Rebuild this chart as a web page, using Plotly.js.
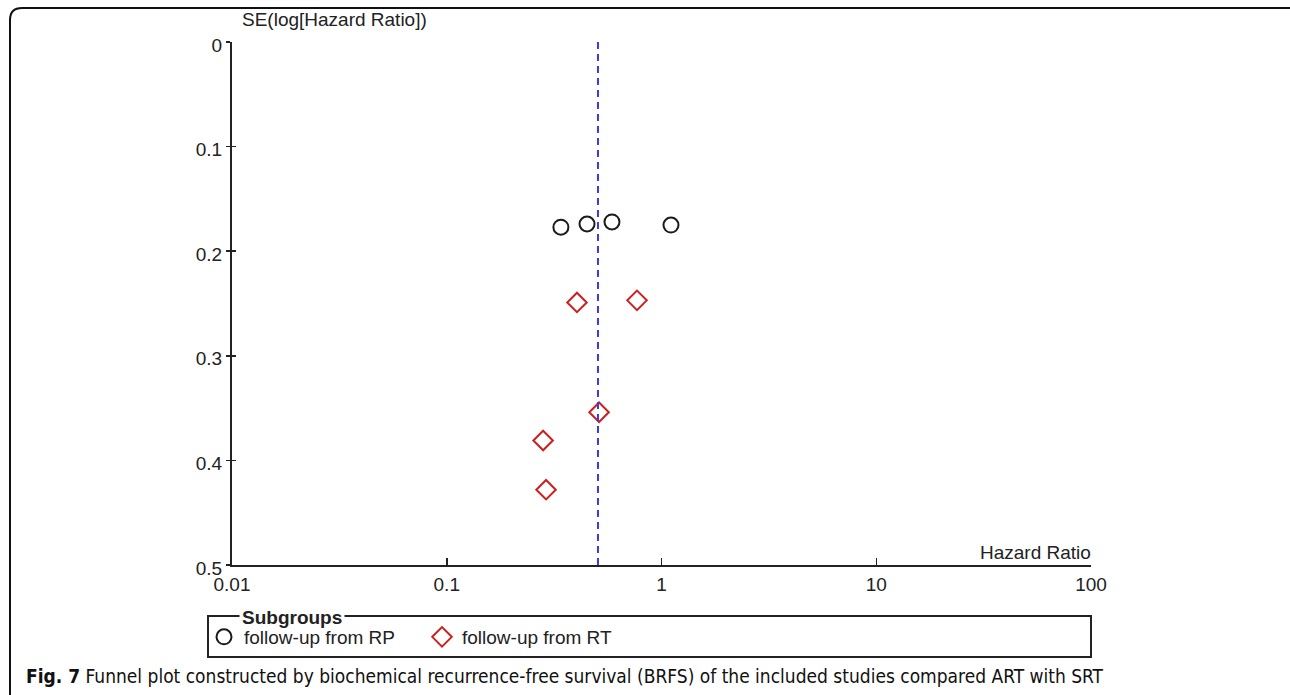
<!DOCTYPE html>
<html>
<head>
<meta charset="utf-8">
<script src="https://cdn.plot.ly/plotly-3.0.1.min.js"></script>
<style>
html,body{margin:0;padding:0;background:#fff;}
#chart{width:1290px;height:695px;}
</style>
</head>
<body>
<div id="chart"></div>
<script>
// Subgroup: follow-up from RP (circles)
const rpHR = [0.340, 0.450, 0.588, 1.107];
const rpSE = [0.177, 0.174, 0.172, 0.175];
// Subgroup: follow-up from RT (diamonds)
const rtHR = [0.404, 0.769, 0.512, 0.281, 0.290];
const rtSE = [0.249, 0.247, 0.354, 0.381, 0.428];
// Pooled estimate (dashed line)
const pooledHR = 0.506;
// Axis ticks
const xTickVals = [0.01, 0.1, 1, 10, 100];
const xTickText = ['0.01', '0.1', '1', '10', '100'];
const yTickVals = [0, 0.1, 0.2, 0.3, 0.4, 0.5];
const yTickText = ['0', '0.1', '0.2', '0.3', '0.4', '0.5'];
const seRange = [0.5, 0];
const legendTitle = 'Subgroups';
const seriesNames = ['follow-up from RP', 'follow-up from RT'];
const caption = '<b>Fig. 7</b> Funnel plot constructed by biochemical recurrence-free survival (BRFS) of the included studies compared ART with SRT';

const ink = '#222222';
const F = 'Liberation Sans, Arial, sans-serif';
const FS = 19;

const traces = [
  {
    x: rpHR, y: rpSE, type: 'scatter', mode: 'markers', name: seriesNames[0],
    marker: {symbol: 'circle-open', size: 15, color: '#1a1a1a', line: {width: 2, color: '#1a1a1a'}},
    xaxis: 'x', yaxis: 'y'
  },
  {
    x: rtHR, y: rtSE, type: 'scatter', mode: 'markers', name: seriesNames[1],
    marker: {symbol: 'diamond-open', size: 15, color: '#cc1f1f', line: {width: 2, color: '#cc1f1f'}},
    xaxis: 'x', yaxis: 'y'
  },
  {
    x: [null], y: [null], type: 'scatter', mode: 'markers', showlegend: false,
    xaxis: 'x', yaxis: 'y2', hoverinfo: 'skip'
  }
];

// plot area in px: left 232, right 1091, top 42, bottom 565
const W = 1091 - 232, H = 565 - 42;
const px = v => (v - 232) / W;
const py = v => (565 - v) / H;

const rx = 12 / W, ry = 12 / H;
const framePath = `M ${px(10)},${py(705)} L ${px(10)},${py(8) - ry} Q ${px(10)},${py(8)} ${px(10) + rx},${py(8)} L ${px(1300)},${py(8)}`;

const layout = {
  width: 1290, height: 695,
  margin: {l: 232, r: 199, t: 42, b: 130, pad: 0},
  paper_bgcolor: '#ffffff', plot_bgcolor: '#ffffff',
  font: {family: F, size: FS, color: ink},
  showlegend: true,
  xaxis: {
    type: 'log', range: [-2, 2], tickvals: xTickVals, ticktext: xTickText,
    showline: true, linecolor: ink, linewidth: 2, showgrid: false, zeroline: false,
    ticks: 'inside', ticklen: 7, tickwidth: 1.5, tickcolor: ink,
    tickfont: {family: F, size: FS, color: ink}, ticklabelstandoff: 1
  },
  yaxis: {
    range: seRange, tickvals: yTickVals, ticktext: yTickText,
    showline: true, linecolor: ink, linewidth: 2, showgrid: false, zeroline: false,
    ticks: 'outside', ticklen: 4, tickwidth: 1.5, tickcolor: ink,
    tickfont: {family: F, size: FS, color: ink}, ticklabelshift: -3, ticklabelstandoff: 0
  },
  yaxis2: {
    overlaying: 'y', side: 'left', range: seRange, tickvals: yTickVals,
    showticklabels: false, showline: false, showgrid: false, zeroline: false,
    ticks: 'inside', ticklen: 4, tickwidth: 1.5, tickcolor: ink
  },
  legend: {
    orientation: 'h', x: px(204), xanchor: 'left', y: py(618), yanchor: 'top',
    bgcolor: 'rgba(0,0,0,0)', borderwidth: 0,
    font: {family: F, size: FS, color: ink},
    itemwidth: 30, entrywidth: 173, entrywidthmode: 'pixels', itemclick: false
  },
  shapes: [
    {type: 'line', xref: 'x', yref: 'paper', x0: pooledHR, x1: pooledHR, y0: 0, y1: 1,
     line: {color: '#3a3ae0', width: 2, dash: '7px,5px'}},
    {type: 'rect', xref: 'paper', yref: 'paper', x0: px(208), x1: px(1091), y0: py(657), y1: py(616),
     line: {color: ink, width: 2}, fillcolor: 'rgba(0,0,0,0)'},
    {type: 'path', xref: 'paper', yref: 'paper', path: framePath, line: {color: '#111', width: 2}}
  ],
  annotations: [
    {text: 'SE(log[Hazard Ratio])', xref: 'paper', yref: 'paper', x: px(240), y: py(20),
     xanchor: 'left', yanchor: 'middle', showarrow: false, font: {family: F, size: FS, color: ink}},
    {text: 'Hazard Ratio', xref: 'paper', yref: 'paper', x: px(1093), y: py(552),
     xanchor: 'right', yanchor: 'middle', showarrow: false, font: {family: F, size: FS, color: ink}},
    {text: '<b>' + legendTitle + '</b>', xref: 'paper', yref: 'paper', x: px(239), y: py(617),
     xanchor: 'left', yanchor: 'middle', showarrow: false, bgcolor: '#ffffff', borderpad: 2,
     font: {family: F, size: FS, color: ink}},
    {text: caption, xref: 'paper', yref: 'paper', x: px(24), y: py(676),
     xanchor: 'left', yanchor: 'middle', showarrow: false,
     font: {family: 'Liberation Sans Narrow, DejaVu Sans Condensed, Open Sans, sans-serif', size: 19, color: '#111'}}
  ]
};

Plotly.newPlot('chart', traces, layout, {staticPlot: true, displayModeBar: false});
</script>
</body>
</html>
